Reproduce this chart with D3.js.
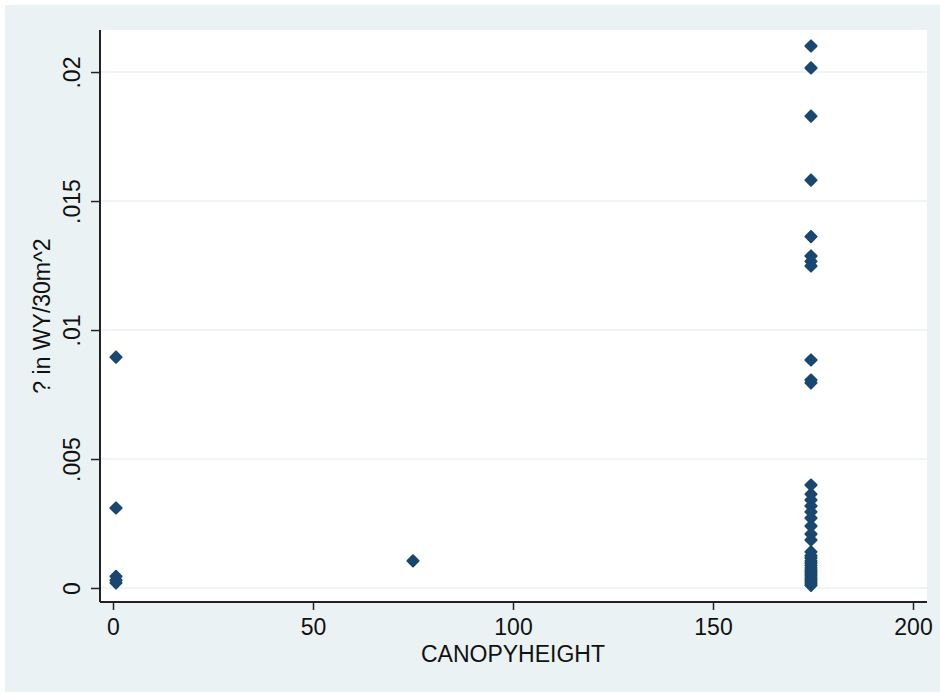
<!DOCTYPE html>
<html>
<head>
<meta charset="utf-8">
<script src="https://cdn.jsdelivr.net/npm/d3@7"></script>
<style>
  body { margin: 0; background: #fff; }
  text { font-family: "Liberation Sans", Arial, sans-serif; fill: #111; }
</style>
</head>
<body>
<svg id="chart"></svg>
<script>
// canopy height (x) and value in WY/30m^2 (y)
var xVals = [
  0.75, 0.75, 0.75, 0.75, 0.75,
  75,
  174.5, 174.5, 174.5, 174.5, 174.5, 174.5, 174.5, 174.5, 174.5, 174.5, 174.5,
  174.5, 174.5, 174.5, 174.5, 174.5, 174.5, 174.5, 174.5, 174.5, 174.5, 174.5,
  174.5, 174.5, 174.5, 174.5, 174.5, 174.5, 174.5, 174.5, 174.5, 174.5, 174.5,
  174.5, 174.5, 174.5
];
var yVals = [
  0.00895, 0.0031, 0.00045, 0.0003, 0.0002,
  0.00105,
  0.02101, 0.02016, 0.01829, 0.01581, 0.01362, 0.01287, 0.01266, 0.01248,
  0.00884, 0.00806, 0.00795, 0.00399, 0.00364, 0.00341, 0.00318, 0.00295,
  0.00271, 0.0024, 0.00209, 0.00186, 0.0014, 0.00125, 0.00116, 0.00105,
  0.00097, 0.00087, 0.00078, 0.0007, 0.00062, 0.00054, 0.00047, 0.00039,
  0.00031, 0.00023, 0.00016, 0.0001
];
var xTicks = [0, 50, 100, 150, 200];
var yTicks = [0, 0.005, 0.01, 0.015, 0.02];
var yTickLabels = ["0", ".005", ".01", ".015", ".02"];

var width = 940, height = 694;
var plot = {left: 100, top: 30, right: 927, bottom: 602};

var svg = d3.select("#chart")
  .attr("width", width)
  .attr("height", height);

// outer graph region
svg.append("rect")
  .attr("x", 5).attr("y", 5)
  .attr("width", width - 5).attr("height", height - 7)
  .attr("fill", "#eaf2f3");

// plot region
svg.append("rect")
  .attr("x", plot.left).attr("y", plot.top)
  .attr("width", plot.right - plot.left).attr("height", plot.bottom - plot.top)
  .attr("fill", "#ffffff");

var x = d3.scaleLinear()
  .domain([-3.25, 203.5])
  .range([plot.left, plot.right]);

var y = d3.scaleLinear()
  .domain([-0.000543, 0.02163])
  .range([plot.bottom, plot.top]);

// gridlines
svg.append("g")
  .selectAll("line")
  .data(yTicks)
  .enter().append("line")
  .attr("x1", plot.left)
  .attr("x2", plot.right)
  .attr("y1", d => y(d))
  .attr("y2", d => y(d))
  .attr("stroke", "#eaf2f3")
  .attr("stroke-width", 1.5);

// x axis
var xAxis = svg.append("g")
  .attr("transform", "translate(0," + plot.bottom + ")")
  .call(d3.axisBottom(x).tickValues(xTicks).tickSize(8).tickPadding(9).tickFormat(d3.format("d")));
xAxis.select(".domain")
  .attr("d", "M" + plot.left + ",0H" + plot.right)
  .attr("stroke", "#222").attr("stroke-width", 2);
xAxis.selectAll(".tick line").attr("stroke", "#222").attr("stroke-width", 1.5);
xAxis.selectAll(".tick text")
  .style("font-size", "23px")
  .attr("fill", "#111");

// y axis
var yAxis = svg.append("g")
  .attr("transform", "translate(" + plot.left + ",0)")
  .call(d3.axisLeft(y).tickValues(yTicks).tickSize(9).tickFormat((d, i) => yTickLabels[i]));
yAxis.select(".domain")
  .attr("d", "M0," + plot.top + "V" + plot.bottom)
  .attr("stroke", "#222").attr("stroke-width", 2);
yAxis.selectAll(".tick line").attr("stroke", "#222").attr("stroke-width", 1.5);
yAxis.selectAll(".tick text")
  .attr("x", null).attr("dy", null)
  .attr("transform", "translate(-20,0) rotate(-90)")
  .style("text-anchor", "middle")
  .style("font-size", "23px")
  .attr("fill", "#111");

// axis titles
svg.append("text")
  .attr("x", x(100))
  .attr("y", 662)
  .style("text-anchor", "middle")
  .style("font-size", "23px")
  .text("CANOPYHEIGHT");

svg.append("text")
  .attr("transform", "translate(50," + ((plot.top + plot.bottom) / 2) + ") rotate(-90)")
  .style("text-anchor", "middle")
  .style("font-size", "23px")
  .text("? in WY/30m^2");

// markers
var points = d3.range(xVals.length).map(i => ({x: xVals[i], y: yVals[i]}));
var diamond = d3.symbol().type(d3.symbolDiamond2).size(80);

svg.append("g")
  .selectAll("path")
  .data(points)
  .enter().append("path")
  .attr("d", diamond)
  .attr("transform", d => "translate(" + x(d.x) + "," + y(d.y) + ")")
  .attr("fill", "#1a476f")
  .attr("stroke", "#1a476f")
  .attr("stroke-width", 2)
  .attr("stroke-linejoin", "round");
</script>
</body>
</html>
